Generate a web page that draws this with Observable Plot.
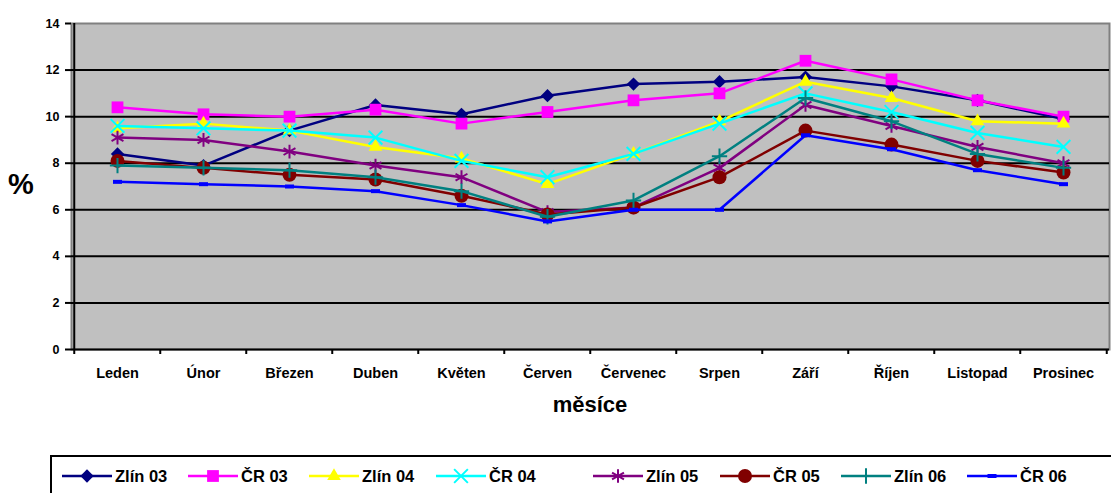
<!DOCTYPE html>
<html>
<head>
<meta charset="utf-8">
<script src="https://cdn.jsdelivr.net/npm/d3@7"></script>
<script src="https://cdn.jsdelivr.net/npm/@observablehq/plot@0.6"></script>
<style>
  body { margin: 0; background: #fff; font-family: "Liberation Sans", Arial, sans-serif; }
  #wrap { position: relative; width: 1111px; height: 493px; overflow: hidden; }
  #ylab { position: absolute; left: 8px; top: 168px; font-size: 29px; font-weight: bold; }
  #xlab { position: absolute; left: 0; width: 1180px; text-align: center; top: 392px; font-size: 22px; font-weight: bold; }
  #legend { position: absolute; left: 50px; top: 455px; width: 1100px; height: 60px; border: 2px solid #000; box-sizing: border-box; }
  .item { position: absolute; top: 9px; height: 20px; display: flex; align-items: center; font-size: 16.5px; font-weight: bold; white-space: nowrap; }
  .item svg { margin-right: 3px; }
</style>
</head>
<body>
<div id="wrap">
  <div id="chart"></div>
  <div id="ylab">%</div>
  <div id="xlab">měsíce</div>
  <div id="legend"></div>
</div>
<script>
// ---- data ----
const months = ["Leden","Únor","Březen","Duben","Květen","Červen","Červenec","Srpen","Září","Říjen","Listopad","Prosinec"];
const seriesNames = ["Zlín 03","ČR 03","Zlín 04","ČR 04","Zlín 05","ČR 05","Zlín 06","ČR 06"];
const zlin03 = [8.4, 7.9, 9.4, 10.5, 10.1, 10.9, 11.4, 11.5, 11.7, 11.3, 10.7, 9.9];
const cr03   = [10.4, 10.1, 10.0, 10.3, 9.7, 10.2, 10.7, 11.0, 12.4, 11.6, 10.7, 10.0];
const zlin04 = [9.5, 9.7, 9.4, 8.7, 8.2, 7.1, 8.4, 9.8, 11.5, 10.8, 9.8, 9.7];
const cr04   = [9.6, 9.5, 9.4, 9.1, 8.1, 7.4, 8.4, 9.7, 11.0, 10.2, 9.3, 8.7];
const zlin05 = [9.1, 9.0, 8.5, 7.9, 7.4, 5.9, 6.1, 7.8, 10.5, 9.6, 8.7, 8.0];
const cr05   = [8.1, 7.8, 7.5, 7.3, 6.6, 5.8, 6.1, 7.4, 9.4, 8.8, 8.1, 7.6];
const zlin06 = [7.9, 7.8, 7.7, 7.4, 6.8, 5.7, 6.4, 8.3, 10.8, 9.8, 8.4, 7.8];
const cr06   = [7.2, 7.1, 7.0, 6.8, 6.2, 5.5, 6.0, 6.0, 9.2, 8.6, 7.7, 7.1];
const yTicks = [0, 2, 4, 6, 8, 10, 12, 14];

// ---- styles ----
const smallRect = { draw(ctx) { ctx.rect(-4.5, -2, 9, 4); } };
const styles = [
  { color: "#000080", symbol: "diamond2", d3sym: d3.symbolDiamond2, r: 6, filled: true },
  { color: "#FF00FF", symbol: "square2", d3sym: d3.symbolSquare2, r: 7.5, filled: true },
  { color: "#FFFF00", symbol: "triangle2", d3sym: d3.symbolTriangle2, r: 6.5, filled: true },
  { color: "#00FFFF", symbol: "times", d3sym: d3.symbolTimes, r: 6.3, filled: false },
  { color: "#800080", symbol: "asterisk", d3sym: d3.symbolAsterisk, r: 6.5, filled: false },
  { color: "#800000", symbol: "circle", d3sym: d3.symbolCircle, r: 7, filled: true },
  { color: "#008080", symbol: "plus", d3sym: d3.symbolPlus, r: 5, filled: false },
  { color: "#0000FF", symbol: smallRect, d3sym: smallRect, r: 3, filled: true }
];
const valueArrays = [zlin03, cr03, zlin04, cr04, zlin05, cr05, zlin06, cr06];
const series = seriesNames.map((name, k) => ({
  name, ...styles[k],
  data: months.map((m, i) => ({ month: m, value: valueArrays[k][i] }))
}));

// ---- layout ----
const W = 1111, H = 440, mL = 71, mR = 2, mT = 23, mB = 91;
const halfStep = (W - mL - mR) / months.length / 2;

const marks = [
  Plot.frame({ fill: "#C0C0C0", stroke: "#808080", strokeWidth: 2 }),
  Plot.gridY([2, 4, 6, 8, 10, 12], { stroke: "#000", strokeOpacity: 1, strokeWidth: 2 }),
  Plot.ruleY([0], { stroke: "#000", strokeWidth: 2 }),
  Plot.ruleX([months[0]], { dx: -halfStep, stroke: "#000", strokeWidth: 2 }),
  Plot.axisY({ ticks: yTicks, tickSize: 6, tickPadding: 6, fontSize: 12.5, fontWeight: "bold", color: "#000", strokeWidth: 2, label: null }),
  Plot.axisX({ ticks: months, tickSize: 5, dx: -halfStep, tickFormat: () => "", strokeWidth: 2, label: null }),
  Plot.axisX({ ticks: [months[months.length - 1]], tickSize: 5, dx: halfStep, tickFormat: () => "", strokeWidth: 2, label: null }),
  Plot.axisX({ ticks: months, tickSize: 0, tickPadding: 18.5, fontSize: 14.5, fontWeight: "bold", color: "#000", label: null })
];
for (const s of series) {
  marks.push(Plot.line(s.data, { x: "month", y: "value", stroke: s.color, strokeWidth: 2.5 }));
  marks.push(Plot.dot(s.data, s.filled
    ? { x: "month", y: "value", symbol: () => s.symbol, r: s.r, fill: s.color, stroke: "none" }
    : { x: "month", y: "value", symbol: () => s.symbol, r: s.r, fill: "none", stroke: s.color, strokeWidth: 2 }));
}

const chart = Plot.plot({
  width: W, height: H,
  marginLeft: mL, marginRight: mR, marginTop: mT, marginBottom: mB,
  style: { fontFamily: "'Liberation Sans', Arial, sans-serif", background: "transparent", color: "#000", overflow: "visible" },
  x: { type: "point", domain: months, padding: 0.5, label: null },
  y: { domain: [0, 14], label: null },
  symbol: { type: "identity" },
  marks
});
document.getElementById("chart").appendChild(chart);

// ---- legend ----
const legendLefts = [10, 136, 257, 384, 541, 668, 789, 915];
const legend = document.getElementById("legend");
series.forEach((s, k) => {
  const item = document.createElement("div");
  item.className = "item";
  item.style.left = legendLefts[k] + "px";
  const size = Math.PI * s.r * s.r;
  const path = d3.symbol(s.d3sym, size)();
  const symAttr = s.filled ? `fill="${s.color}"` : `fill="none" stroke="${s.color}" stroke-width="2"`;
  item.innerHTML = `<svg width="50" height="20"><line x1="0" x2="50" y1="10" y2="10" stroke="${s.color}" stroke-width="2.5"/><path transform="translate(25,10)" d="${path}" ${symAttr}/></svg><span>${s.name}</span>`;
  legend.appendChild(item);
});
</script>
</body>
</html>
